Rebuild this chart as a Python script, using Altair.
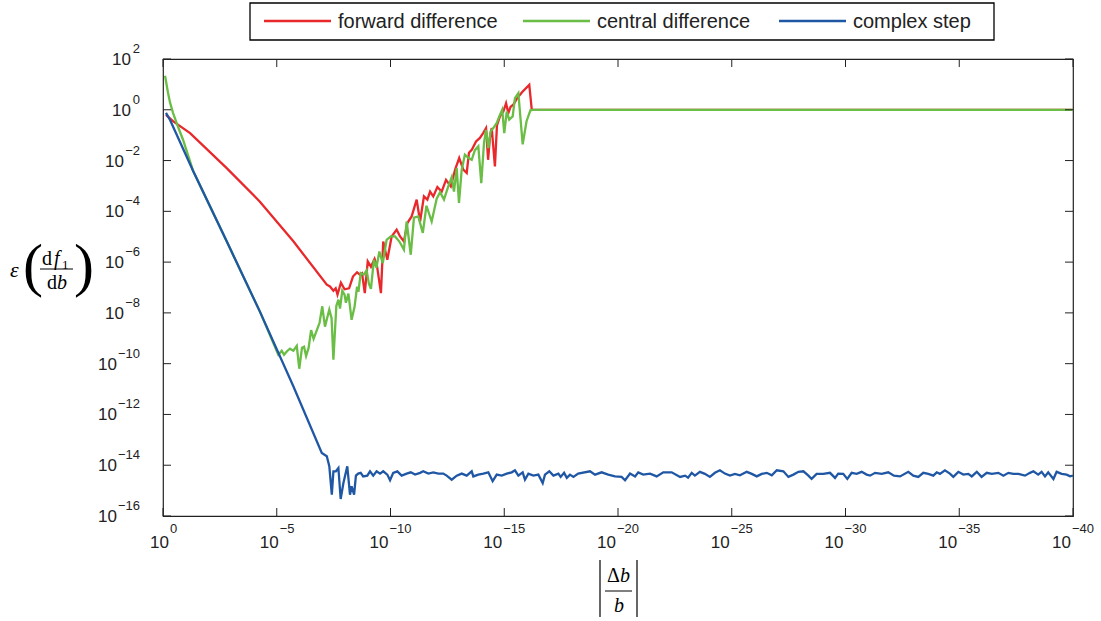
import altair as alt
import pandas as pd

# (decades d, log10 error) pairs; |Δb/b| = 10^-d
red = [(0.13,-0.20),(0.45,-0.46),(1.19,-0.92),(2.80,-2.30),(4.26,-3.62),(5.73,-5.18),(7.20,-6.89),(7.34,-6.96),(7.49,-7.13),(7.59,-7.03),(7.67,-7.28),(7.82,-6.81),(7.98,-7.07),(8.18,-7.03),(8.35,-6.57),(8.53,-6.40),(8.66,-6.50),(8.75,-6.44),(8.87,-7.22),(9.00,-5.97),(9.14,-6.18),(9.30,-5.87),(9.41,-6.17),(9.58,-7.22),(9.68,-5.19),(9.86,-5.91),(10.05,-4.99),(10.27,-4.72),(10.42,-4.99),(10.59,-5.19),(10.74,-4.46),(10.93,-4.20),(11.15,-3.54),(11.30,-4.40),(11.47,-3.41),(11.62,-3.54),(11.74,-3.22),(11.88,-3.41),(12.06,-3.04),(12.25,-3.22),(12.44,-2.76),(12.65,-3.02),(12.84,-2.36),(13.02,-1.90),(13.20,-2.36),(13.35,-2.49),(13.45,-1.69),(13.58,-1.57),(13.76,-1.25),(13.93,-1.11),(14.08,-0.91),(14.20,-0.72),(14.29,-1.97),(14.37,-1.10),(14.45,-0.72),(14.59,-2.23),(14.68,-0.61),(14.81,-0.26),(14.96,-0.07),(15.08,0.26),(15.18,-0.13),(15.28,0.12),(15.40,0.20),(15.55,0.43),(15.78,0.69),(16.10,0.98),(16.21,0.00),(40.0,0.0)]

green = [(0.09,1.34),(0.22,0.67),(0.31,0.28),(0.44,-0.12),(0.66,-0.67),(0.88,-1.18),(1.32,-2.40),(2.81,-5.20),(4.26,-7.95),(5.07,-9.65),(5.22,-9.49),(5.32,-9.65),(5.45,-9.51),(5.58,-9.41),(5.73,-9.49),(5.88,-9.30),(5.99,-10.20),(6.11,-9.37),(6.20,-9.33),(6.29,-9.70),(6.40,-9.38),(6.51,-8.68),(6.62,-9.02),(6.77,-8.66),(6.88,-8.40),(7.00,-7.74),(7.12,-8.54),(7.31,-7.87),(7.41,-8.21),(7.49,-9.84),(7.62,-7.72),(7.71,-7.48),(7.78,-7.83),(7.88,-7.13),(7.98,-7.28),(8.04,-7.60),(8.15,-7.24),(8.29,-8.27),(8.42,-7.76),(8.53,-6.97),(8.59,-7.17),(8.69,-6.43),(8.82,-6.50),(8.95,-6.32),(9.05,-6.85),(9.14,-7.05),(9.27,-5.91),(9.38,-6.22),(9.51,-5.58),(9.66,-6.04),(9.83,-5.12),(10.01,-4.99),(10.20,-4.99),(10.39,-5.19),(10.59,-5.51),(10.71,-4.40),(10.89,-5.71),(11.03,-4.25),(11.22,-4.20),(11.42,-4.85),(11.58,-3.78),(11.81,-4.40),(12.03,-3.50),(12.18,-3.25),(12.35,-3.54),(12.54,-3.02),(12.69,-2.66),(12.79,-3.22),(12.91,-2.30),(13.01,-3.67),(13.13,-2.36),(13.27,-1.77),(13.42,-1.89),(13.57,-1.97),(13.71,-1.59),(13.86,-1.44),(13.99,-2.89),(14.11,-1.30),(14.20,-0.79),(14.30,-1.51),(14.40,-0.85),(14.52,-0.72),(14.67,-0.52),(14.81,-0.20),(14.91,0.00),(15.00,-0.92),(15.11,-0.07),(15.22,-0.39),(15.37,-0.26),(15.47,0.46),(15.62,0.66),(15.81,-1.36),(15.98,-0.45),(16.15,-0.02),(16.26,0.0),(40.0,0.0)]

blue = [(0.13,-0.12),(0.31,-0.40),(1.32,-2.40),(2.81,-5.20),(4.26,-7.95),(5.71,-10.85),(6.98,-13.52),(7.20,-13.65),(7.31,-14.04),(7.42,-15.16),(7.49,-14.24),(7.60,-14.24),(7.71,-14.11),(7.81,-15.33),(7.93,-14.70),(8.10,-14.04),(8.22,-15.16),(8.29,-14.83),(8.40,-15.16),(8.48,-14.41),(8.58,-14.33),(8.69,-14.30),(8.80,-14.44),(8.98,-14.41),(9.10,-14.24),(9.24,-14.41),(9.39,-14.24),(9.54,-14.33),(9.68,-14.24),(9.86,-14.37),(9.98,-14.59),(10.12,-14.30),(10.30,-14.24),(10.49,-14.41),(10.71,-14.33),(10.89,-14.28),(11.08,-14.37),(11.30,-14.30),(11.44,-14.24),(11.66,-14.33),(11.88,-14.28),(12.10,-14.33),(12.32,-14.33),(12.47,-14.41),(12.69,-14.57),(12.91,-14.41),(13.13,-14.33),(13.35,-14.41),(13.57,-14.24),(13.64,-14.44),(13.86,-14.37),(14.08,-14.33),(14.30,-14.28),(14.49,-14.63),(14.67,-14.37),(14.89,-14.41),(15.11,-14.33),(15.33,-14.28),(15.47,-14.20),(15.62,-14.41),(15.81,-14.28),(15.91,-14.57),(16.06,-14.33),(16.28,-14.41),(16.50,-14.37),(16.69,-14.70),(16.79,-14.37),(16.98,-14.24),(17.16,-14.41),(17.38,-14.33),(17.48,-14.46),(17.63,-14.30),(17.75,-14.50),(17.89,-14.37),(18.04,-14.46),(18.25,-14.33),(18.77,-14.24),(18.99,-14.37),(19.28,-14.28),(19.57,-14.37),(19.87,-14.44),(20.16,-14.46),(20.31,-14.59),(20.53,-14.33),(20.75,-14.44),(20.89,-14.28),(21.11,-14.37),(21.41,-14.33),(21.70,-14.44),(21.99,-14.28),(22.36,-14.28),(22.73,-14.46),(22.95,-14.41),(23.08,-14.49),(23.24,-14.30),(23.38,-14.41),(23.60,-14.26),(23.82,-14.34),(24.04,-14.46),(24.26,-14.30),(24.48,-14.20),(24.70,-14.33),(24.92,-14.41),(25.14,-14.34),(25.36,-14.40),(25.66,-14.26),(25.88,-14.34),(26.10,-14.44),(26.32,-14.34),(26.54,-14.30),(26.76,-14.40),(26.98,-14.20),(27.27,-14.24),(27.49,-14.46),(27.71,-14.37),(27.93,-14.26),(28.15,-14.24),(28.37,-14.41),(28.51,-14.54),(28.73,-14.34),(29.02,-14.34),(29.32,-14.30),(29.54,-14.50),(29.68,-14.33),(29.90,-14.34),(30.08,-14.54),(30.27,-14.30),(30.49,-14.34),(30.71,-14.26),(30.93,-14.37),(31.08,-14.41),(31.30,-14.30),(31.59,-14.34),(31.88,-14.28),(32.13,-14.41),(32.40,-14.44),(32.76,-14.26),(32.98,-14.41),(33.20,-14.46),(33.42,-14.30),(33.64,-14.34),(33.86,-14.41),(34.01,-14.28),(34.15,-14.34),(34.37,-14.20),(34.59,-14.33),(34.74,-14.46),(34.96,-14.26),(35.18,-14.37),(35.40,-14.34),(35.55,-14.44),(35.77,-14.26),(35.98,-14.46),(36.21,-14.30),(36.43,-14.34),(36.72,-14.30),(36.94,-14.41),(37.16,-14.30),(37.38,-14.34),(37.60,-14.34),(37.89,-14.41),(38.11,-14.30),(38.26,-14.24),(38.47,-14.37),(38.62,-14.26),(38.77,-14.44),(38.91,-14.28),(39.14,-14.54),(39.28,-14.26),(39.50,-14.34),(39.72,-14.37),(39.87,-14.44),(40.0,-14.41)]

series_names = ["forward difference", "central difference", "complex step"]
series_colors = ["#E8282B", "#6ABD45", "#1F57A5"]

x_tick_exp = [0, 5, 10, 15, 20, 25, 30, 35, 40]       # 10^-e
y_tick_exp = [2, 0, -2, -4, -6, -8, -10, -12, -14, -16]

rows = []
for name, pts in zip(series_names, [red, green, blue]):
    for i, (d, ly) in enumerate(pts):
        rows.append({"series": name, "step": 10.0 ** (-d), "err": 10.0 ** ly, "order": i})
df = pd.DataFrame(rows)

W, H = 910, 457
FONT = "Liberation Sans"
SERIF = "Liberation Serif"
xscale = alt.Scale(type="log", domain=[1e-40, 1], reverse=True)
yscale = alt.Scale(type="log", domain=[1e-16, 1e2])
color = alt.Color("series:N", scale=alt.Scale(domain=series_names, range=series_colors), legend=None)

layers = []
for name in series_names:
    layers.append(
        alt.Chart(df).transform_filter(alt.datum.series == name)
        .mark_line(strokeWidth=2.3, clip=True)
        .encode(
            x=alt.X("step:Q", scale=xscale, axis=None),
            y=alt.Y("err:Q", scale=yscale, axis=None),
            color=color,
            order="order:Q",
        )
    )

# ticks (inward, all four sides)
xt = pd.DataFrame({"v": [10.0 ** (-e) for e in x_tick_exp],
                   "base": ["10"] * len(x_tick_exp),
                   "ex": ["0" if e == 0 else "\u2212" + str(e) for e in x_tick_exp]})
xt["n"] = xt["ex"].str.len()
yt = pd.DataFrame({"v": [10.0 ** e for e in y_tick_exp],
                   "base": ["10"] * len(y_tick_exp),
                   "ex": [str(e) if e >= 0 else "\u2212" + str(-e) for e in y_tick_exp]})
yt["n"] = yt["ex"].str.len()

TK = 8
tick_style = dict(color="#222", strokeWidth=1)
layers.append(alt.Chart(xt).mark_rule(**tick_style).encode(
    x=alt.X("v:Q", scale=xscale, axis=None), y=alt.value(H), y2=alt.value(H - TK)))
layers.append(alt.Chart(xt).mark_rule(**tick_style).encode(
    x=alt.X("v:Q", scale=xscale, axis=None), y=alt.value(0), y2=alt.value(TK)))
layers.append(alt.Chart(yt).mark_rule(**tick_style).encode(
    y=alt.Y("v:Q", scale=yscale, axis=None), x=alt.value(0), x2=alt.value(TK)))
layers.append(alt.Chart(yt).mark_rule(**tick_style).encode(
    y=alt.Y("v:Q", scale=yscale, axis=None), x=alt.value(W), x2=alt.value(W - TK)))

# x tick labels: "10" + superscript exponent, centred on tick
x_shift = {1: 6, 2: 2, 3: -2}
for n, sh in x_shift.items():
    sub = xt[xt["n"] == n]
    layers.append(alt.Chart(sub).mark_text(align="right", baseline="alphabetic", dx=sh,
                                           font=FONT, fontSize=17, color="#222").encode(
        x=alt.X("v:Q", scale=xscale, axis=None), y=alt.value(H + 32), text="base:N"))
    layers.append(alt.Chart(sub).mark_text(align="left", baseline="alphabetic", dx=sh + 1,
                                           font=FONT, fontSize=13, color="#222").encode(
        x=alt.X("v:Q", scale=xscale, axis=None), y=alt.value(H + 17), text="ex:N"))

# y tick labels: right aligned
y_shift = {1: -8, 2: -15, 3: -22}
for n, sh in y_shift.items():
    sub = yt[yt["n"] == n]
    layers.append(alt.Chart(sub).mark_text(align="right", baseline="alphabetic", dy=6,
                                           font=FONT, fontSize=17, color="#222").encode(
        y=alt.Y("v:Q", scale=yscale, axis=None), x=alt.value(-23 + sh - 1), text="base:N"))
    layers.append(alt.Chart(sub).mark_text(align="right", baseline="alphabetic", dy=-6,
                                           font=FONT, fontSize=13, color="#222").encode(
        y=alt.Y("v:Q", scale=yscale, axis=None), x=alt.value(-23), text="ex:N"))

dummy = pd.DataFrame({"k": [0]})


def txt(t, x, y, size, font=SERIF, style="normal", align="left", col="black"):
    return alt.Chart(dummy).mark_text(text=t, align=align, baseline="alphabetic", fontSize=size,
                                      font=font, fontStyle=style, color=col).encode(
        x=alt.value(x), y=alt.value(y))


def hline(x1, x2, y, w=1, col="black"):
    return alt.Chart(dummy).mark_rule(color=col, strokeWidth=w).encode(
        x=alt.value(x1), x2=alt.value(x2), y=alt.value(y))


def vline(x, y1, y2, w=1.2):
    return alt.Chart(dummy).mark_rule(color="black", strokeWidth=w).encode(
        x=alt.value(x), y=alt.value(y1), y2=alt.value(y2))


# legend box (drawn by hand so the entries stay one text line tall)
layers.append(alt.Chart(dummy).mark_rect(fill="white", stroke="black", strokeWidth=1.3).encode(
    x=alt.value(87), x2=alt.value(831), y=alt.value(-56), y2=alt.value(-19)))
legend_line_x = [101, 360, 616]
for name, col, lx in zip(series_names, series_colors, legend_line_x):
    layers.append(hline(lx, lx + 67, -38, w=2.5, col=col))
    layers.append(txt(name, lx + 74, -31, 20, font=FONT, col="#222"))

# y-axis title:  ε ( df1 / db )
layers += [
    txt("\u03b5", -153, 218, 22, style="italic"),
    txt("(", -140, 226, 60),
    txt("d", -121, 206, 20),
    txt("f", -109, 206, 20, style="italic"),
    txt("1", -101, 210, 13),
    hline(-123, -90, 210),
    txt("d", -116, 230, 20),
    txt("b", -106, 230, 20, style="italic"),
    txt(")", -89, 226, 60),
]
# x-axis title: | Δb / b |
layers += [
    vline(437, 501, 558),
    txt("\u0394", 444, 523, 20),
    txt("b", 457, 523, 20, style="italic"),
    hline(442, 469, 532),
    txt("b", 451, 553, 20, style="italic"),
    vline(474, 501, 558),
]

chart = alt.layer(*layers).properties(
    width=W, height=H,
    padding={"left": 163, "top": 59, "right": 28, "bottom": 105},
    autosize=alt.AutoSizeParams(type="none"),
    background="white",
).configure_view(stroke="#222", strokeWidth=1.2)

chart.save("out.html", embed_options={"renderer": "svg", "actions": False})
